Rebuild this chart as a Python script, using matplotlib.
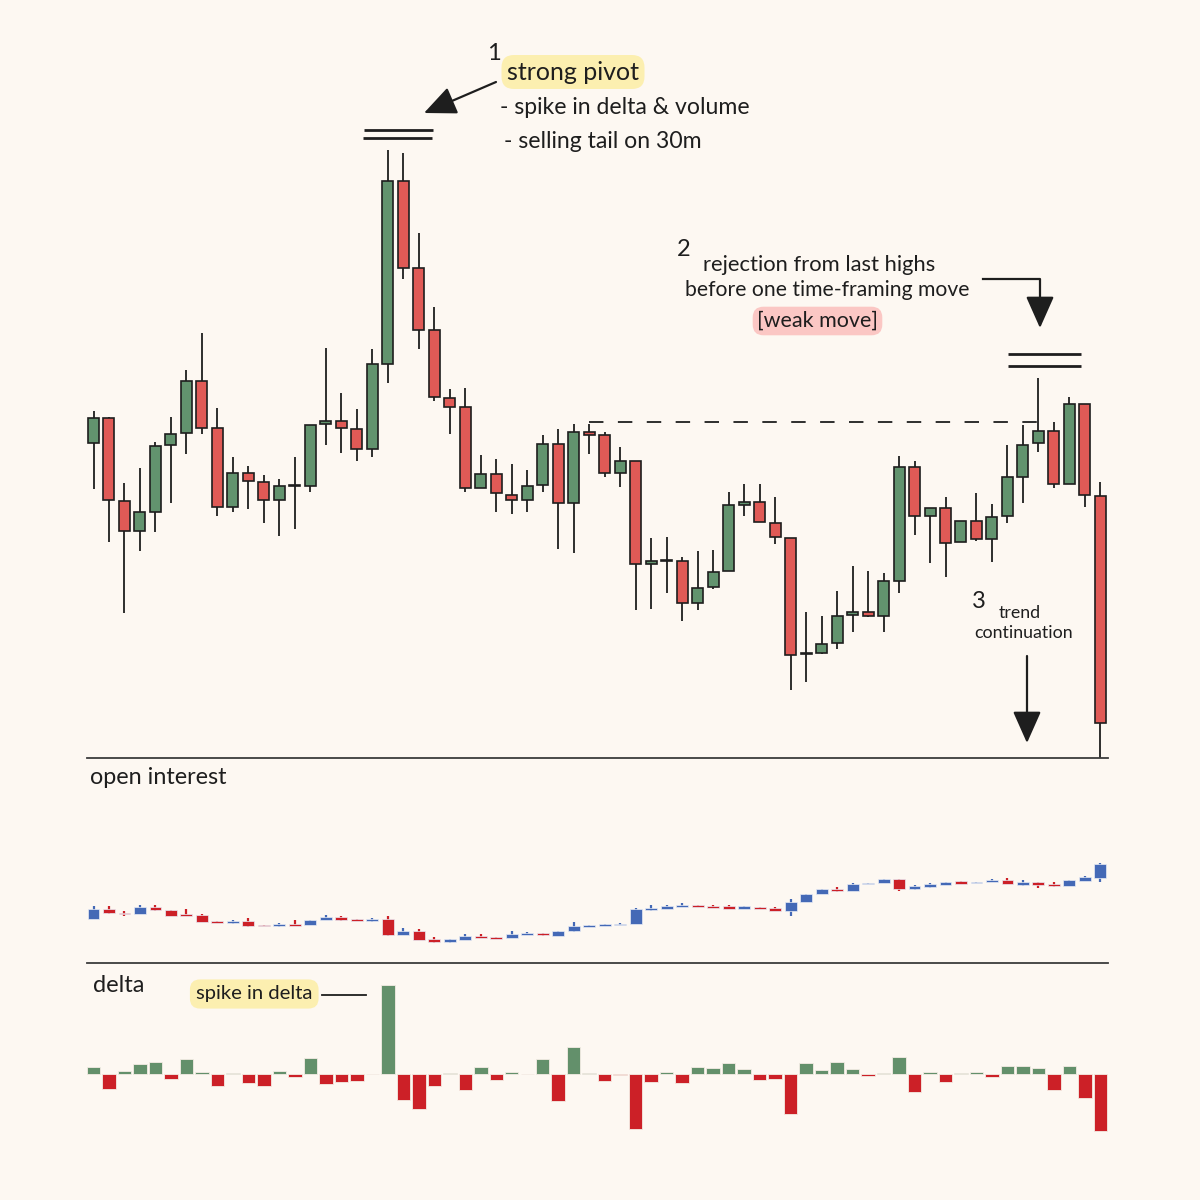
import matplotlib
matplotlib.use("Agg")
import matplotlib.pyplot as plt
from matplotlib.lines import Line2D
import numpy as np

# ---------------- data ----------------
# price candles (open, high, low, close) - arbitrary price units
opens  = [557, 582, 499, 469, 488, 555, 567, 619, 572, 493, 527, 518, 500, 514, 514, 576, 579, 571, 551, 636,
          819, 732, 670, 602, 593, 512, 526, 505, 500, 515, 556, 497, 568, 565, 527, 539, 436, 439, 439, 397,
          413, 429, 495, 498, 477, 462, 346, 347, 357, 385, 388, 384, 419, 533, 484, 492, 458, 479, 461, 484,
          523, 557, 569, 516, 596, 504]
highs  = [589, 583, 517, 532, 558, 583, 630, 667, 592, 543, 534, 525, 521, 543, 575, 652, 607, 591, 651, 850,
          847, 767, 693, 611, 612, 545, 541, 536, 530, 565, 571, 576, 576, 568, 553, 539, 462, 463, 443, 449,
          450, 508, 516, 516, 503, 462, 388, 384, 409, 434, 429, 427, 544, 539, 492, 503, 479, 507, 496, 555,
          575, 622, 578, 603, 596, 518]
lows   = [511, 458, 387, 449, 468, 497, 546, 566, 484, 488, 491, 477, 464, 471, 508, 555, 547, 539, 543, 617,
          721, 651, 599, 566, 508, 512, 488, 486, 488, 508, 451, 447, 546, 523, 513, 390, 391, 407, 379, 390,
          411, 429, 484, 478, 456, 310, 318, 346, 351, 368, 383, 368, 407, 465, 437, 423, 458, 459, 438, 477,
          497, 548, 512, 516, 493, 242]
closes = [582, 500, 469, 488, 554, 566, 619, 572, 493, 527, 519, 500, 514, 514, 575, 579, 572, 551, 636, 819,
          732, 670, 603, 593, 512, 526, 507, 500, 514, 556, 497, 568, 565, 527, 539, 436, 439, 439, 397, 412,
          428, 495, 498, 478, 463, 345, 346, 356, 384, 388, 384, 419, 533, 484, 492, 457, 479, 461, 483, 523,
          555, 569, 516, 596, 505, 277]

# open interest candles
oi_open  = [81, 91, 87, 86, 93, 90, 86, 85, 79, 77, 79, 75, 74, 76, 75, 80, 83, 81, 79, 81,
            65, 69, 61, 58, 60, 64, 63, 62, 65, 67, 64, 69, 73.5, 74.3, 75, 76, 90, 91, 93, 95,
            94, 94, 91, 93, 92, 89, 98, 106, 111, 109, 116, 117, 121, 111, 113, 115, 119, 117, 118, 120,
            115, 118, 116, 114, 119, 122]
oi_high  = [94, 94, 89, 95, 95, 90, 91, 86, 79, 80, 82, 75, 77, 80, 80, 85, 84, 81, 82, 84,
            72, 71, 63, 61, 66, 66, 63, 69, 68, 67, 69, 78, 75, 76.5, 77, 92, 95, 95, 97, 95,
            95, 95, 94, 93, 93, 101, 106, 111, 113, 117, 117.5, 121, 121, 115, 117, 118, 119, 118.5, 121, 122,
            120, 118, 118, 120, 124, 137]
oi_low   = [81, 86, 84, 86, 89, 84, 84, 78, 77, 76, 73, 74, 73, 74, 75, 80, 79, 79, 78, 64,
            65, 60, 57, 57, 60, 62, 61, 62, 65, 64, 64, 68, 73, 74, 75, 76, 89, 91, 93, 93,
            92, 91, 91, 91, 89, 84, 98, 106, 108, 109, 116, 117, 109, 110, 112, 115, 116, 117, 118, 116,
            114, 112, 113, 114, 119, 118]
oi_close = [91, 87, 86, 93, 90, 84, 84, 78, 77, 79, 74, 74, 76, 74, 80, 83, 80, 79, 81, 65,
            69, 60, 58, 61, 64, 62, 61, 66, 67, 65, 69, 74, 74.7, 75.7, 76.7, 91, 92, 94, 95, 93,
            92, 91, 94, 91, 89, 98, 106, 111, 109, 116, 117, 121, 111, 114, 116, 118, 116, 118, 120, 116,
            118, 115, 114, 120, 123, 136]

# delta per candle
delta = [7.7, -14.3, 3.3, 10.7, 12.7, -5, 15.7, 2.3, -11.7, 1.7,
         -8.7, -11.7, 3, -2.3, 16, -9.7, -8, -6.7, 0.7, 89.7,
         -25.7, -35, -11.7, 1, -15.3, 7.3, -5.3, 2, 0.7, 15.7,
         -27, 27, 1.7, -6.7, -1, -55, -8, 2.7, -9, 7.3,
         6.3, 11, 5.7, -6, -4.3, -40, 11, 4.7, 12.7, 5,
         -1.7, 1, 17.7, -17.7, 2, -7.7, 1.3, 2, -2.7, 8.7,
         8.7, 6.3, -16, 8.7, -23.3, -56.7]

resistance_level = 578.5
pivot_marks = [870, 862]
reject_marks = [645.7, 634.3]

# ---------------- style ----------------
BG = "#fdf8f2"
INK = "#1e1e1e"
C_UP = "#62936e"
C_DN = "#e05a56"
OI_UP = "#4469b6"
OI_DN = "#cc2027"
D_UP = "#63906b"
D_DN = "#cc2027"
FONT = ["Lato", "DejaVu Sans"]
plt.rcParams["font.family"] = FONT

W = H = 1200
fig = plt.figure(figsize=(12, 12), dpi=100, facecolor=BG)

def fx(x):
    return x / W

def fy(y):
    return 1 - y / H

def add_ax(left, top, right, bottom):
    a = fig.add_axes([fx(left), fy(bottom), fx(right - left), (bottom - top) / H])
    a.set_facecolor("none")
    for s in a.spines.values():
        s.set_visible(False)
    a.set_xticks([])
    a.set_yticks([])
    return a

n = len(opens)
x = np.arange(n)
XL = (-0.42, 65.49)

# ---------------- price panel ----------------
ax = add_ax(87, 0, 1108, 758)
ax.set_xlim(*XL)
ax.set_ylim(242, 1000)
ax.spines["bottom"].set_visible(True)
ax.spines["bottom"].set_color("#3c3c3c")
ax.spines["bottom"].set_linewidth(1.3)

o = np.array(opens, float); c = np.array(closes, float)
hi = np.array(highs, float); lo = np.array(lows, float)
up = c >= o
ax.vlines(x, lo, hi, color=INK, lw=1.3, zorder=2)
bottoms = np.minimum(o, c)
heights = np.maximum(np.abs(c - o), 0.6)
ax.bar(x, heights, bottom=bottoms, width=0.71,
       color=[C_UP if u else C_DN for u in up], edgecolor=INK, linewidth=1.2, zorder=3)

ax.hlines(resistance_level, 32, 61, colors=INK, lw=1.3, linestyles=(0, (8, 8)), zorder=1)
ax.hlines(pivot_marks, [17.45, 17.4], [21.92, 21.85], colors=INK, lw=2.0)
ax.hlines(reject_marks, 59.04, 63.75, colors=INK, lw=2.0)

# ---------------- open interest panel ----------------
ax2 = add_ax(87, 760, 1108, 963)
ax2.set_xlim(*XL)
ax2.set_ylim(37, 240)
ax2.spines["bottom"].set_visible(True)
ax2.spines["bottom"].set_color("#3c3c3c")
ax2.spines["bottom"].set_linewidth(1.3)
oo = np.array(oi_open, float); oc = np.array(oi_close, float)
oup = oc >= oo
ocol = [OI_UP if u else OI_DN for u in oup]
ax2.vlines(x, oi_low, oi_high, colors=ocol, lw=1.6, zorder=2)
ax2.bar(x, np.maximum(np.abs(oc - oo), 1.6), bottom=np.minimum(oo, oc) - 0.2, width=0.77,
        color=ocol, edgecolor="#e9ecf5", linewidth=0.5, zorder=3)

# ---------------- delta panel ----------------
ax3 = add_ax(87, 965, 1108, 1150)
ax3.set_xlim(*XL)
ax3.set_ylim(-75.7, 109.3)
d = np.array(delta)
ax3.bar(x, d, width=0.87, color=[D_UP if v >= 0 else D_DN for v in d],
        edgecolor="#f4ece4", linewidth=0.6)

# ---------------- annotations ----------------
def txt(xp, yp, s, size, **kw):
    fig.text(fx(xp), fy(yp), s, fontsize=size, color=INK, va="center", **kw)

def arrow(x0, y0, x1, y1, ms=22):
    ax.annotate("", xy=(x1, H - y1), xytext=(x0, H - y0),
                xycoords="figure pixels", textcoords="figure pixels",
                arrowprops=dict(arrowstyle="-|>,head_length=0.9,head_width=0.4",
                                mutation_scale=ms, lw=1.6, color=INK, shrinkA=0, shrinkB=0),
                annotation_clip=False)

# 1 strong pivot
txt(487, 53, "1", 17)
txt(507, 72, "strong pivot", 18,
    bbox=dict(boxstyle="round,pad=0.22,rounding_size=0.5", fc="#fcefb0", ec="none"))
txt(500, 108, "- spike in delta & volume", 16.6)
txt(504, 141, "- selling tail on 30m", 16.6)
arrow(496, 82, 424, 113)

# 2 rejection
txt(677, 249, "2", 17)
txt(703, 265, "rejection from last highs", 15.8)
txt(685, 290, "before one time-framing move", 15.2)
txt(757, 321, "[weak move]", 15.5,
    bbox=dict(boxstyle="round,pad=0.2,rounding_size=0.5", fc="#fbc7c4", ec="none"))
fig.add_artist(Line2D([fx(983), fx(1040), fx(1040)], [fy(279), fy(279), fy(300)],
                      color=INK, lw=1.6))
arrow(1040, 298, 1040, 328)

# 3 trend continuation
txt(972, 601, "3", 17)
txt(1020, 613, "trend", 12.8, ha="center")
txt(1024, 633, "continuation", 12.8, ha="center")
arrow(1027, 656, 1027, 743)

# panel labels
txt(90, 778, "open interest", 16.8)
txt(93, 985, "delta", 17)
txt(196, 994, "spike in delta", 14.6,
    bbox=dict(boxstyle="round,pad=0.3,rounding_size=0.5", fc="#fcefb0", ec="none"))
fig.add_artist(Line2D([fx(322), fx(366)], [fy(995), fy(995)], color=INK, lw=1.3))

fig.savefig("out.png", dpi=100, facecolor=BG)
